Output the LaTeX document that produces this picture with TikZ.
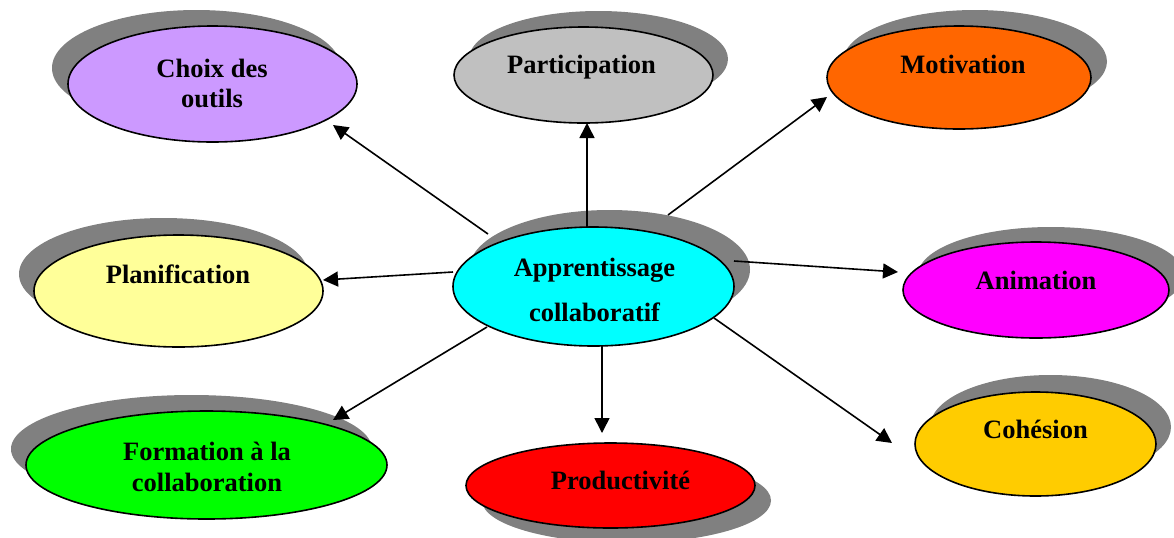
\documentclass[tikz,border=0pt]{standalone}
\usepackage{fontspec}
\setmainfont{Liberation Serif}
\usetikzlibrary{arrows.meta,shadows,shapes.geometric}
\definecolor{shgray}{HTML}{808080}
\definecolor{cChoix}{HTML}{CC99FF}
\definecolor{cPart}{HTML}{C0C0C0}
\definecolor{cMot}{HTML}{FF6600}
\definecolor{cPlan}{HTML}{FFFF99}
\definecolor{cAp}{HTML}{00FFFF}
\definecolor{cAnim}{HTML}{FF00FF}
\definecolor{cForm}{HTML}{00FF00}
\definecolor{cProd}{HTML}{FF0000}
\definecolor{cCoh}{HTML}{FFCC00}
\begin{document}
\begin{tikzpicture}[x=0.5pt,y=-0.5pt,
  ell/.style={shape=ellipse,draw=black,line width=0.8pt,inner sep=0pt},
  sh/.style 2 args={drop shadow={shadow xshift=#1,shadow yshift=#2,fill=shgray,opacity=1}},
  lbl/.style={font=\fontsize{13.25}{15}\selectfont\bfseries,inner sep=0pt,align=center},
  arr/.style={line width=0.8pt,-{Triangle[length=7.5pt,width=7.5pt]}}]
\useasboundingbox (0,0) rectangle (1174,537);
\clip (0,0) rectangle (1174,537);
% ellipses
\node[ell,fill=cChoix,minimum width=144.5pt,minimum height=58pt,sh={-8pt}{8pt}] (choix) at (212.5,84) {};
\node[ell,fill=cPart,minimum width=129.5pt,minimum height=48pt,sh={7.5pt}{8pt}] (part) at (583.5,75) {};
\node[ell,fill=cMot,minimum width=132pt,minimum height=51.5pt,sh={8pt}{8pt}] (mot) at (959,77.5) {};
\node[ell,fill=cPlan,minimum width=144.5pt,minimum height=56pt,sh={-7.5pt}{8.5pt}] (plan) at (178.5,291) {};
\node[ell,fill=cAp,minimum width=140.5pt,minimum height=59.5pt,sh={8pt}{8.5pt}] (ap) at (593.5,286.5) {};
\node[ell,fill=cAnim,minimum width=133pt,minimum height=48pt,sh={7.5pt}{7.5pt}] (anim) at (1036,290) {};
\node[ell,fill=cForm,minimum width=180.5pt,minimum height=54pt,sh={-7.5pt}{8pt}] (form) at (206.5,465) {};
\node[ell,fill=cProd,minimum width=144.5pt,minimum height=42.5pt,sh={8pt}{-7.5pt}] (prod) at (610.5,485.5) {};
\node[ell,fill=cCoh,minimum width=120.5pt,minimum height=52pt,sh={7.5pt}{8.5pt}] (coh) at (1035.5,444) {};
% labels
\node[lbl,anchor=north] (choixT) at (212,59) {Choix des\\outils};
\node[lbl,anchor=base] (partT) at (581.5,73) {Participation};
\node[lbl,anchor=base] (motT) at (963,73) {Motivation};
\node[lbl,anchor=base] (planT) at (178,283) {Planification};
\node[lbl,anchor=north,font=\fontsize{13.25}{22.5}\selectfont\bfseries] (apT) at (594.5,258) {Apprentissage\\collaboratif};
\node[lbl,anchor=base] (animT) at (1036,289) {Animation};
\node[lbl,anchor=north,font=\fontsize{13.25}{15.5}\selectfont\bfseries] (formT) at (207,441.5) {Formation à la\\collaboration};
\node[lbl,anchor=base] (prodT) at (620.5,489) {Productivité};
\node[lbl,anchor=base] (cohT) at (1035.5,438) {Cohésion};
% connectors
\draw[arr] ([shift={(-105.5,-52.5)}]ap.center) -- ([shift={(120.5,41)}]choix.center);
\draw[arr] ([shift={(-6.5,-59.5)}]ap.center) -- ([shift={(3.5,48)}]part.center);
\draw[arr] ([shift={(74.5,-71.5)}]ap.center) -- ([shift={(-132,19.5)}]mot.center);
\draw[arr] ([shift={(-140.5,-14.5)}]ap.center) -- ([shift={(144.5,-11)}]plan.center);
\draw[arr] ([shift={(140.5,-25.5)}]ap.center) -- ([shift={(-138,-18)}]anim.center);
\draw[arr] ([shift={(-106.5,40.5)}]ap.center) -- ([shift={(126.5,-45)}]form.center);
\draw[arr] ([shift={(8.5,59.5)}]ap.center) -- ([shift={(-8.5,-52.5)}]prod.center);
\draw[arr] ([shift={(120.5,31.5)}]ap.center) -- ([shift={(-143.5,-1)}]coh.center);
\end{tikzpicture}
\end{document}
